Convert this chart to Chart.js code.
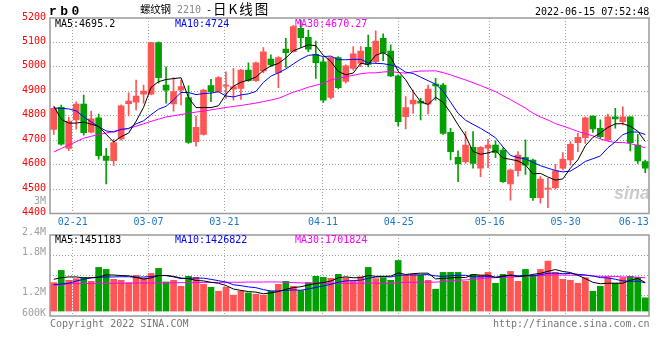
<!DOCTYPE html>
<html><head><meta charset="utf-8">
<script src="https://cdn.jsdelivr.net/npm/chart.js@4"></script>
<style>
body{margin:0;background:#fff;width:660px;height:360px;position:relative;overflow:hidden;font-family:"DejaVu Sans Mono",monospace;}
canvas{position:absolute;left:0;}
#price{top:0;}
#vol{top:225px;}
.t{position:absolute;white-space:nowrap;font-family:"DejaVu Sans Mono",monospace;font-size:10px;line-height:10px;}
.cjk{font-family:'Noto Sans CJK SC';}
</style></head><body>
<canvas id="price" width="660" height="240"></canvas>
<canvas id="vol" width="660" height="135"></canvas>

<div class="t" style="left:49px;top:5px;font:bold 13px 'Liberation Mono';letter-spacing:3.5px;line-height:13px">rb0</div>
<div class="t cjk" style="left:140px;top:2px;font-size:10.5px;line-height:14px;letter-spacing:-0.3px">螺纹钢</div>
<div class="t" style="left:177px;top:5px;color:#888">2210</div>
<div class="t" style="left:206px;top:5px;">-</div>
<div class="t cjk" style="left:213px;top:0px;font-size:13.5px;line-height:16px;letter-spacing:2px">日K线图</div>
<div class="t" style="left:535px;top:7px;">2022-06-15 07:52:48</div>
<div class="t" style="left:55px;top:19px;color:#000">MA5:4695.2</div>
<div class="t" style="left:175px;top:19px;color:#0000ff">MA10:4724</div>
<div class="t" style="left:295px;top:19px;color:#ff00ff">MA30:4670.27</div>
<div class="t" style="left:34px;top:196px;color:#a0a0a0">3M</div>
<div class="t" style="left:55px;top:235px;color:#000">MA5:1451183</div>
<div class="t" style="left:175px;top:235px;color:#0000ff">MA10:1426822</div>
<div class="t" style="left:295px;top:235px;color:#ff00ff">MA30:1701824</div>
<div class="t" style="left:50px;top:319px;color:#777">Copyright 2022 SINA.COM</div>
<div class="t" style="left:493px;top:319px;color:#777">http://finance.sina.com.cn</div>
<div class="t" style="left:614px;top:183px;font:italic bold 18px 'Liberation Sans';color:rgba(170,170,170,0.6)">sina</div>

<script>
// ---- data ----
const dates = ['02-16','02-17','02-18','02-21','02-22','02-23','02-24','02-25','02-28',
 '03-01','03-02','03-03','03-04','03-07','03-08','03-09','03-10','03-11','03-14','03-15','03-16','03-17','03-18',
 '03-21','03-22','03-23','03-24','03-25','03-28','03-29','03-30','03-31',
 '04-01','04-06','04-07','04-08','04-11','04-12','04-13','04-14','04-15','04-18','04-19','04-20','04-21','04-22',
 '04-25','04-26','04-27','04-28','04-29','05-05','05-06','05-09','05-10','05-11','05-12','05-13',
 '05-16','05-17','05-18','05-19','05-20','05-23','05-24','05-25','05-26','05-27','05-30','05-31',
 '06-01','06-02','06-06','06-07','06-08','06-09','06-10','06-13','06-14','06-15'];
const tickDates = ['02-21','03-07','03-21','04-11','04-25','05-16','05-30','06-13'];
const gridDates = ['02-21','03-07','03-21','04-11','04-25','05-16','05-30'];

const open  = [4744,4834,4666,4783,4848,4733,4791,4635,4616,4705,4849,4856,4888,4888,5099,4926,4848,4905,4874,4694,
               4724,4923,4899,4921,4909,4912,4987,4944,4983,5032,4976,5073,5062,5158,5121,5051,5021,4875,5038,4940,
               4994,5014,5080,5021,5117,5065,4963,4796,4848,4860,4847,4930,4926,4732,4630,4612,4671,4585,4667,4680,
               4660,4521,4575,4630,4619,4465,4500,4506,4585,4619,4690,4710,4799,4749,4701,4796,4776,4796,4680,4612];
const high  = [4832,4844,4795,4857,4885,4819,4807,4667,4704,4845,4894,4946,4926,5100,5102,5000,4956,4946,4922,4799,
               4909,4949,4960,4980,4994,4990,5017,5020,5079,5049,5042,5117,5170,5192,5151,5106,5038,5040,5042,5008,
               5083,5083,5130,5148,5135,5090,4967,4878,4905,4871,4926,4953,4933,4749,4656,4735,4735,4674,4703,4697,
               4669,4582,4653,4701,4623,4551,4544,4601,4649,4694,4728,4796,4800,4783,4807,4830,4837,4796,4724,4619];
const low   = [4724,4680,4657,4745,4721,4730,4622,4521,4596,4700,4799,4824,4851,4885,4933,4851,4819,4844,4687,4676,
               4721,4858,4896,4871,4864,4867,4940,4940,4975,5001,4915,4998,5060,5080,5062,4953,4855,4869,4910,4933,
               4987,5001,5000,5014,5025,4960,4758,4746,4810,4783,4807,4864,4724,4619,4530,4605,4585,4551,4588,4628,
               4527,4455,4553,4560,4454,4442,4424,4500,4578,4598,4653,4687,4732,4707,4698,4749,4762,4656,4605,4567];
const close = [4830,4684,4778,4848,4731,4787,4637,4617,4690,4841,4860,4881,4901,5099,4956,4905,4899,4919,4691,4753,
               4905,4899,4956,4924,4919,4987,4944,5017,5062,5008,5038,5058,5165,5120,5072,5017,4864,5038,4915,5004,
               5053,5065,5010,5106,5058,4963,4776,4833,4864,4851,4909,4922,4728,4653,4603,4680,4605,4671,4680,4649,
               4530,4578,4639,4598,4465,4541,4504,4575,4623,4683,4712,4792,4746,4714,4796,4787,4796,4690,4615,4585];
const volume = [1451000,2075000,1569000,1653000,1704000,1518000,2226000,2125000,1619000,1569000,
                1451000,1822000,1687000,1923000,2176000,1484000,1569000,1265000,1771000,1720000,
                1366000,1214000,1012000,1214000,810000,1012000,928000,860000,810000,1012000,
                1366000,1518000,1265000,1046000,1451000,1771000,1720000,1670000,1872000,1704000,
                1518000,1754000,2226000,1653000,1704000,1569000,2581000,1822000,1872000,1822000,
                1569000,1113000,1973000,1973000,1973000,1518000,1872000,1822000,1973000,1417000,
                1872000,2024000,1518000,2125000,1822000,2125000,2547000,1973000,1619000,1569000,
                1417000,1704000,1012000,1265000,1704000,1417000,1704000,1771000,1720000,675000];
// moving-average values before enough bars exist on this chart
const ma5Lead  = [4840,4785,4770,4770];
const ma10Lead = [4832,4830,4828,4820,4796,4775,4755,4738,4733];
const ma30Lead = [4652,4666,4680,4694,4708,4716,4723,4729,4736,4743,4749,4757,4767,4777,4786,4795,4800,4805,
                  4810,4815,4819,4824,4829,4834,4838,4842,4847,4852,4858];
const vma5Lead  = [1620000,1700000,1740000,1740000];
const vma10Lead = [1350000,1380000,1420000,1530000,1620000,1690000,1720000,1740000,1740000];
const vma30Lead = [1320000,1330000,1400000,1400000,1400000,1410000,1410000,1410000,1420000,1420000,
                   1420000,1430000,1430000,1430000,1440000,1440000,1440000,1450000,1450000,1450000,
                   1460000,1460000,1460000,1470000,1470000,1470000,1480000,1480000,1480000];
const priceTicks = [4400,4500,4600,4700,4800,4900,5000,5100,5200];
const volTickLabels = ['600K','1.2M','','1.8M','2.4M'];

// ---- derived ----
function movingAverage(vals, n, lead){
  return vals.map((v,i)=> i < n-1 ? lead[i] : vals.slice(i-n+1,i+1).reduce((a,b)=>a+b,0)/n);
}
const RED='#ff5555', GREEN='#00a000';
const colors = close.map((c,i)=> c >= open[i] ? RED : GREEN);
const bodies = open.map((o,i)=>[o, close[i]]);
const wicks  = low.map((l,i)=>[l, high[i]]);
const tickIdx = tickDates.map(d=>dates.indexOf(d));
const MONO = {family:'DejaVu Sans Mono', size:10};
const GRID = '#a0a0a0';

function frame(color){
  return {id:'frame', beforeDatasetsDraw(c){
    const {ctx, chartArea:a} = c; ctx.save();
    ctx.strokeStyle=color; ctx.lineWidth=1.5;
    ctx.strokeRect(a.left, a.top, a.right-a.left, a.bottom-a.top); ctx.restore();
  }};
}
function lineDs(data, color){
  return {type:'line', data, borderColor:color, borderWidth:1, pointRadius:0, tension:0, order:0, xAxisID:'x'};
}
function gridAxis(showTicks){
  return {type:'linear', min:0, max:dates.length-1, position:'bottom',
    afterBuildTicks: s => { s.ticks = tickIdx.map(v=>({value:v})); },
    afterFit: s => { s.height = showTicks ? 26.5 : 0; },
    ticks:{display:showTicks, autoSkip:false, maxRotation:0, padding:3, color:'#1e78c8', font:MONO,
      callback: v => dates[v]},
    grid:{drawTicks:false, lineWidth:1, color: ctx => (ctx.tick && gridDates.includes(dates[ctx.tick.value])) ? GRID : 'rgba(0,0,0,0)'},
    border:{display:false, dash:[1,2]}};
}

new Chart(document.getElementById('price'), {
  data:{labels:dates, datasets:[
    lineDs(movingAverage(close,5,ma5Lead),'#000000'),
    lineDs(movingAverage(close,10,ma10Lead),'#0000ff'),
    lineDs(movingAverage(close,30,ma30Lead),'#ff00ff'),
    {type:'bar', data:bodies, backgroundColor:colors, barThickness:6, minBarLength:1, grouped:false, order:1},
    {type:'bar', data:wicks, backgroundColor:colors, barThickness:1, minBarLength:1, grouped:false, order:2}
  ]},
  options:{responsive:false, animation:false, events:[],
    layout:{padding:{left:0,right:11,top:18,bottom:0}},
    plugins:{legend:{display:false}, tooltip:{enabled:false}},
    scales:{
      x:{type:'category', offset:true, display:false},
      xg:gridAxis(true),
      y:{min:priceTicks[0], max:priceTicks[priceTicks.length-1],
        afterBuildTicks: s => { s.ticks = priceTicks.map(v=>({value:v})); },
        afterFit: s => { s.width = 50; },
        ticks:{color:'#ff0000', font:MONO, padding:4, labelOffset:-1, callback: v => String(v)},
        grid:{drawTicks:false, color: ctx => (ctx.tick && ctx.tick.value>priceTicks[0] && ctx.tick.value<priceTicks[priceTicks.length-1]) ? GRID:'rgba(0,0,0,0)'},
        border:{display:false, dash:[1,2]}}
    }},
  plugins:[frame('#9a9a9a')]
});

const VMIN=-253000, VMAX=3881000;
new Chart(document.getElementById('vol'), {
  data:{labels:dates, datasets:[
    lineDs(movingAverage(volume,5,vma5Lead),'#000000'),
    lineDs(movingAverage(volume,10,vma10Lead),'#0000ff'),
    lineDs(movingAverage(volume,30,vma30Lead),'#ff00ff'),
    {type:'bar', data:volume, backgroundColor:colors, barThickness:6, base:0, grouped:false, order:1}
  ]},
  options:{responsive:false, animation:false, events:[],
    layout:{padding:{left:0,right:11,top:9.3,bottom:44}},
    plugins:{legend:{display:false}, tooltip:{enabled:false}},
    scales:{
      x:{type:'category', offset:true, display:false},
      xg:gridAxis(false),
      y:{min:VMIN, max:VMAX,
        afterBuildTicks: s => { s.ticks = volTickLabels.map((t,k)=>({value: VMIN + k*(VMAX-VMIN)/(volTickLabels.length-1)})); },
        afterFit: s => { s.width = 50; },
        ticks:{color:'#a0a0a0', font:MONO, padding:4, labelOffset:-3, callback:(v,k)=>volTickLabels[k]},
        grid:{drawTicks:false, color: ctx => (ctx.index>0 && ctx.index<volTickLabels.length-1) ? GRID:'rgba(0,0,0,0)'},
        border:{display:false, dash:[1,2]}}
    }},
  plugins:[frame('#9a9a9a')]
});
</script>
</body></html>
